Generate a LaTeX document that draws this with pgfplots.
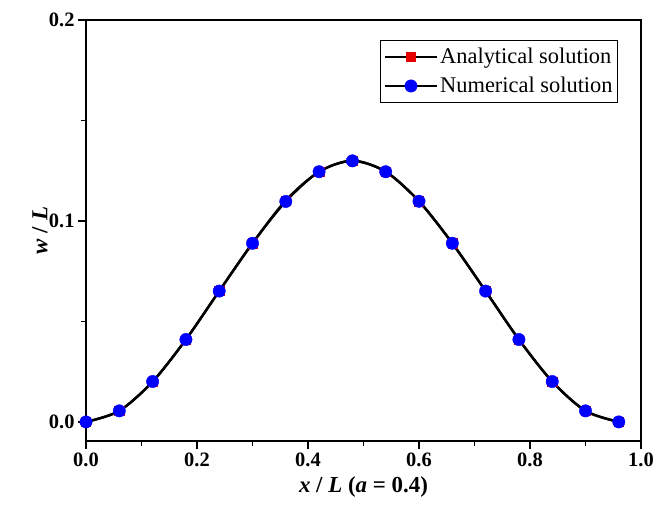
\documentclass[border=0pt]{standalone}
\usepackage{fontspec}
\setmainfont{Liberation Serif}
\usepackage{pgfplots}
\pgfplotsset{compat=1.18}
\definecolor{anared}{RGB}{230,0,0}
\definecolor{numblue}{RGB}{0,0,255}

\begin{document}
\begin{tikzpicture}[x=1bp,y=1bp]
\useasboundingbox (-86bp,-65bp) rectangle (570bp,441bp);
\begin{axis}[
    scale only axis,
    width=555bp, height=421bp,
    xmin=0, xmax=1.0,
    ymin=-0.0095, ymax=0.2,
    xtick={0,0.2,...,1.0},
    ytick={0,0.1,0.2},
    minor xtick={0.1,0.3,0.5,0.7,0.9},
    minor ytick={0.05,0.15},
    xticklabel style={/pgf/number format/.cd,fixed,fixed zerofill,precision=1},
    yticklabel style={/pgf/number format/.cd,fixed,fixed zerofill,precision=1},
    /pgf/number format/assume math mode=true,
    tick label style={font=\fontsize{20.5}{24}\selectfont\bfseries},
    tick align=outside,
    xtick pos=bottom, ytick pos=left,
    major tick length=8bp, minor tick length=5bp,
    axis line style={line width=1.8bp},
    tick style={line width=1.5bp, black},
    xlabel={\textbf{\textit{x} / \textit{L} (\textit{a} = 0.4)}},
    ylabel={\textbf{\textit{w} / \textit{L}}},
    every axis x label/.style={at={(axis description cs:0.5,0)}, anchor=center,
        yshift=-46bp, font=\fontsize{23}{27}\selectfont},
    every axis y label/.style={at={(axis description cs:0,0.5)}, anchor=center,
        xshift=-46bp, rotate=90, font=\fontsize{23}{27}\selectfont},
    legend style={at={(0.9586,0.9525)}, anchor=north east, draw=black,
        line width=0.8bp, font=\fontsize{22.5}{26}\selectfont,
        inner xsep=3bp, inner ysep=2bp,
        nodes={inner ysep=6bp}},
    legend cell align=left,
    legend image code/.code={
        \draw[#1, mark repeat=2, mark phase=2] plot coordinates {(0bp,0bp) (26bp,0bp) (52bp,0bp)};},
]
  % analytical solution
  \addplot[black, line width=2.4bp, smooth, mark=square*,
           mark options={draw=anared, fill=anared, line width=0.4bp}, mark size=4.6bp]
  coordinates {
    (0.00,0.0000) (0.06,0.0055) (0.12,0.0200) (0.18,0.0410) (0.24,0.0651)
    (0.30,0.0889) (0.36,0.1102) (0.42,0.1245) (0.48,0.1300) (0.54,0.1245)
    (0.60,0.1098) (0.66,0.0889) (0.72,0.0651) (0.78,0.0410) (0.84,0.0201)
    (0.90,0.0055) (0.96,0.0000)};
  % numerical solution
  \addplot[black, line width=2.4bp, smooth, mark=*,
           mark options={draw=numblue, fill=numblue, line width=0.4bp}, mark size=6.2bp]
  coordinates {
    (0.00,0.0000) (0.06,0.0055) (0.12,0.0201) (0.18,0.0410) (0.24,0.0651)
    (0.30,0.0889) (0.36,0.1097) (0.42,0.1245) (0.48,0.1299) (0.54,0.1245)
    (0.60,0.1098) (0.66,0.0889) (0.72,0.0651) (0.78,0.0410) (0.84,0.0201)
    (0.90,0.0055) (0.96,0.0000)};
  \legend{Analytical solution, Numerical solution}
\end{axis}
\end{tikzpicture}
\end{document}
